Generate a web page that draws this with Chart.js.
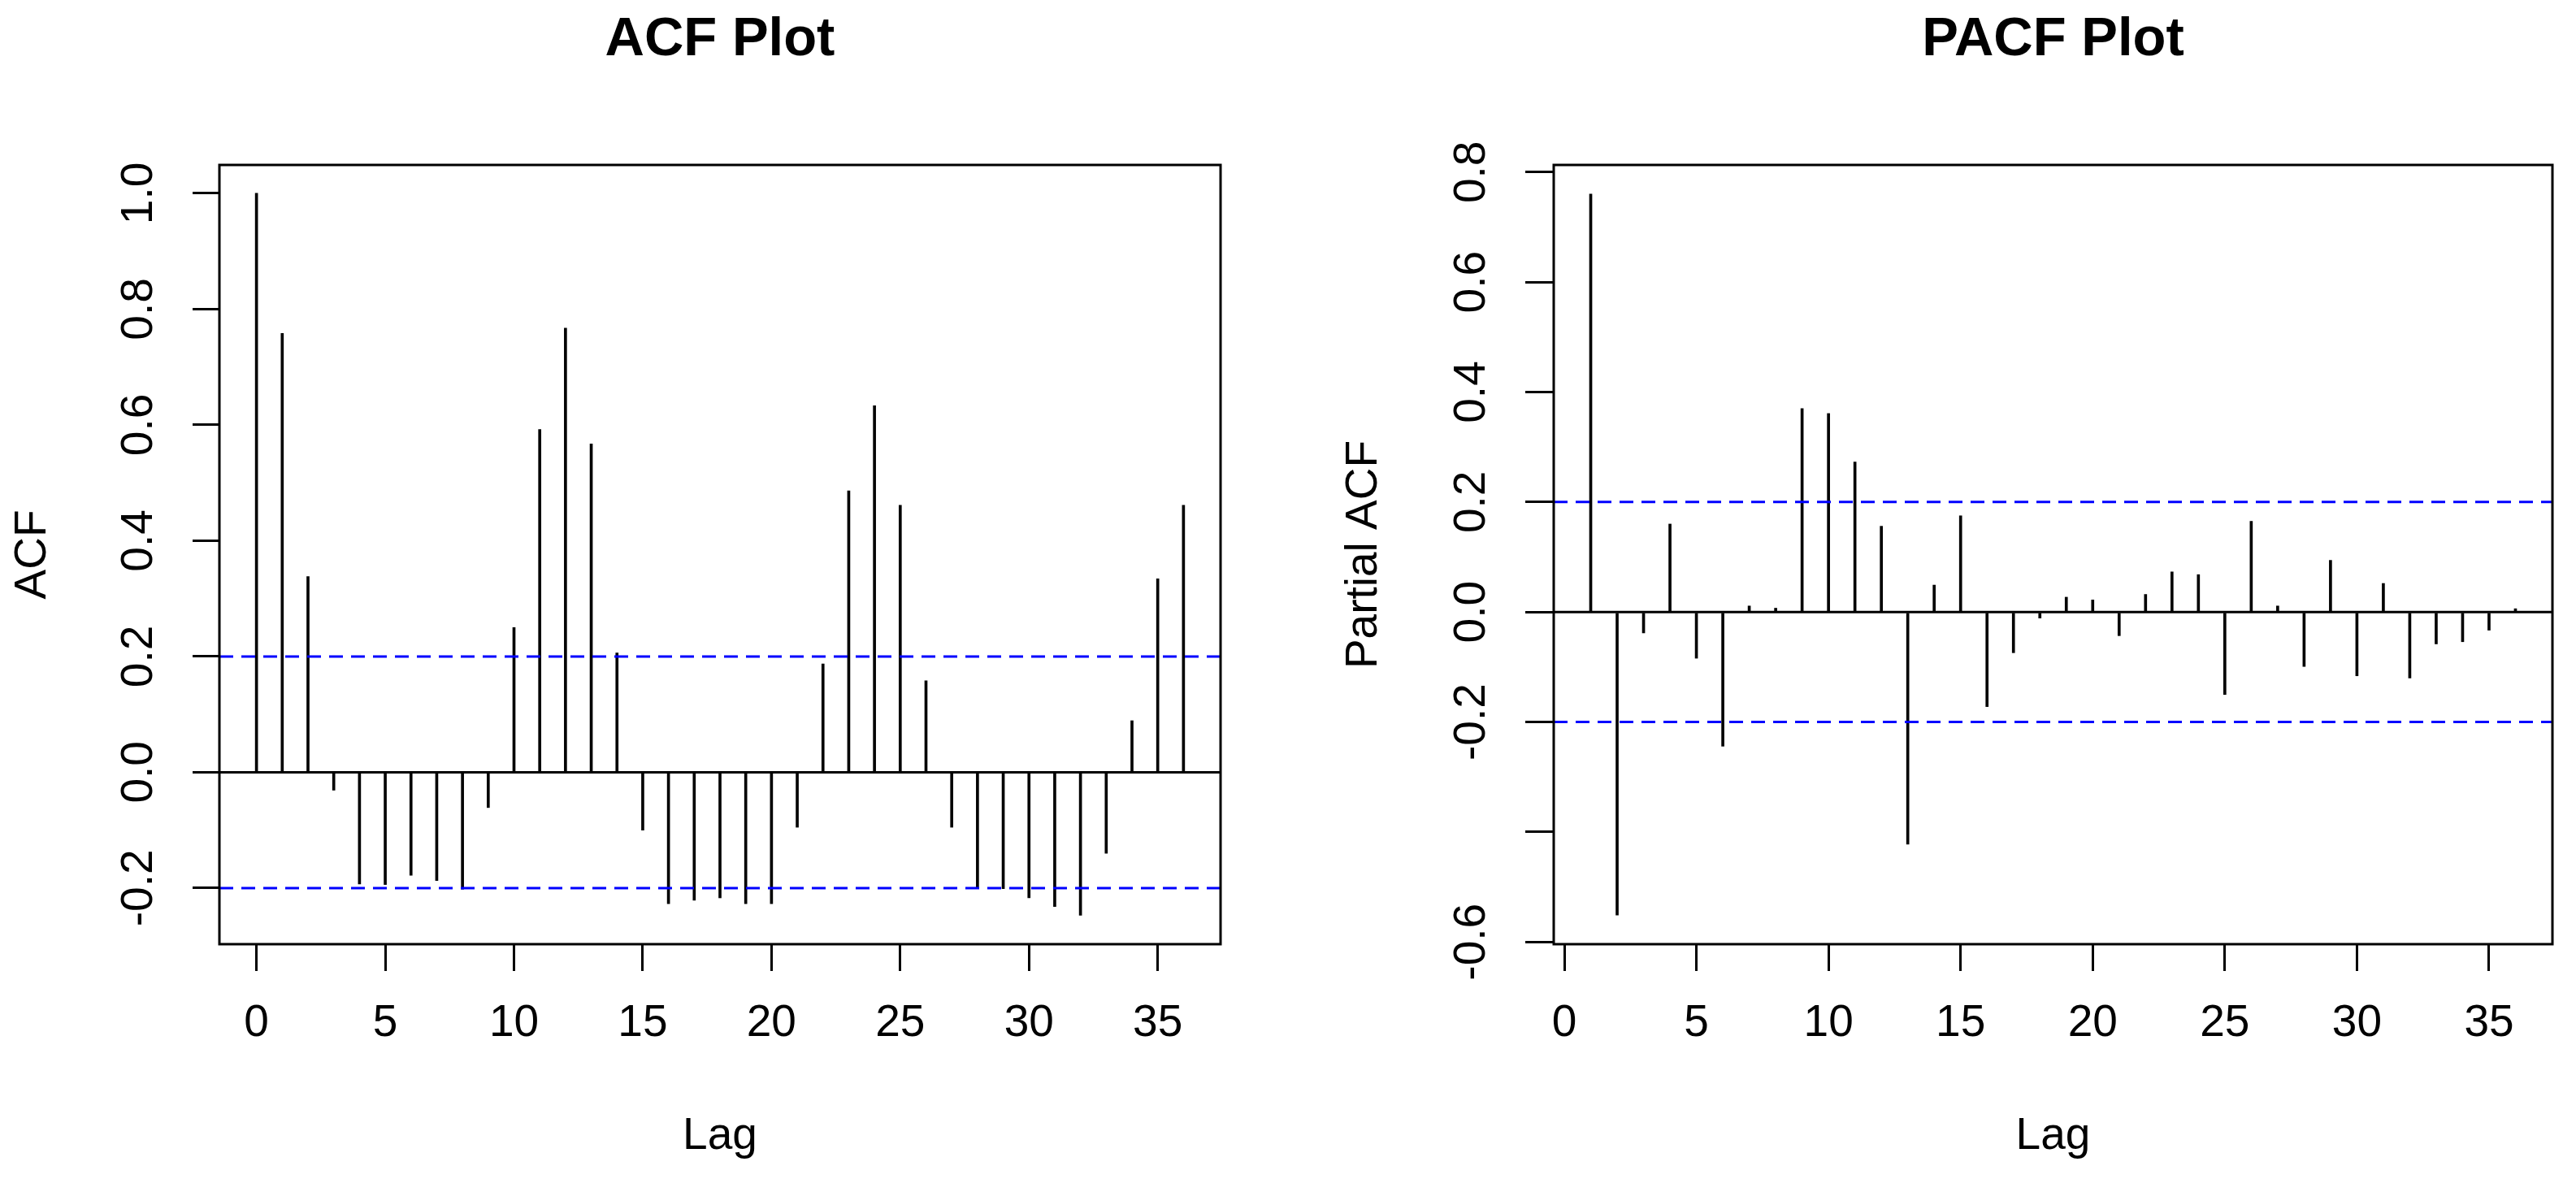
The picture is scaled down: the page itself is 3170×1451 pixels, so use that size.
<!DOCTYPE html>
<html>
<head>
<meta charset="utf-8">
<title>ACF / PACF</title>
<script src="https://cdn.jsdelivr.net/npm/chart.js@4.4.1/dist/chart.umd.min.js"></script>
<style>
  html, body { margin: 0; padding: 0; background: #fff; }
  #wrap { position: relative; width: 3170px; height: 1451px; }
  canvas { position: absolute; top: 0; }
</style>
</head>
<body>
<div id="wrap">
  <canvas id="acfChart" width="1585" height="1451" style="left:0px"></canvas>
  <canvas id="pacfChart" width="1585" height="1451" style="left:1585px"></canvas>
</div>
<script>
// valores
const acfLags = [0, 1, 2, 3, 4, 5, 6, 7, 8, 9, 10, 11, 12, 13, 14, 15, 16, 17, 18,
                 19, 20, 21, 22, 23, 24, 25, 26, 27, 28, 29, 30, 31, 32, 33, 34, 35, 36];
const acfValues = [1.000, 0.758, 0.338, -0.031, -0.193, -0.194, -0.178, -0.187, -0.202,
                   -0.061, 0.250, 0.592, 0.767, 0.567, 0.206, -0.100, -0.227, -0.221,
                   -0.217, -0.227, -0.227, -0.095, 0.187, 0.486, 0.633, 0.461, 0.158,
                   -0.095, -0.201, -0.201, -0.217, -0.232, -0.247, -0.140, 0.089, 0.334, 0.461];

const pacfLags = [1, 2, 3, 4, 5, 6, 7, 8, 9, 10, 11, 12, 13, 14, 15, 16, 17, 18,
                  19, 20, 21, 22, 23, 24, 25, 26, 27, 28, 29, 30, 31, 32, 33, 34, 35, 36];
const pacfValues = [0.760, -0.551, -0.038, 0.160, -0.084, -0.244, 0.011, 0.007, 0.370,
                    0.361, 0.273, 0.156, -0.422, 0.049, 0.175, -0.172, -0.074, -0.011,
                    0.027, 0.022, -0.043, 0.032, 0.073, 0.068, -0.150, 0.165, 0.011,
                    -0.099, 0.094, -0.116, 0.052, -0.120, -0.058, -0.054, -0.033, 0.006];

const ciLimit = 0.2; // limites de confiança (linhas azuis)

const xTicks = [0, 5, 10, 15, 20, 25, 30, 35];
const acfYTicks = [-0.2, 0, 0.2, 0.4, 0.6, 0.8, 1.0];
const acfYLabels = ['-0.2', '0.0', '0.2', '0.4', '0.6', '0.8', '1.0'];
const pacfYTicks = [-0.6, -0.4, -0.2, 0, 0.2, 0.4, 0.6, 0.8];
const pacfYLabels = ['-0.6', '', '-0.2', '0.0', '0.2', '0.4', '0.6', '0.8'];

Chart.defaults.font.family = "'Liberation Sans', Arial, sans-serif";
Chart.defaults.color = '#000';

// moldura em volta da área do gráfico
const plotBox = {
    id: 'plotBox',
    afterDraw(chart) {
        const { ctx, chartArea: a } = chart;
        ctx.save();
        ctx.strokeStyle = '#000';
        ctx.lineWidth = 3;
        ctx.strokeRect(a.left, a.top, a.right - a.left, a.bottom - a.top);
        ctx.restore();
    }
};

function stemChart(id, o) {
    const hline = (y, color, dash) => ({
        type: 'line',
        data: [{ x: o.xMin, y: y }, { x: o.xMax, y: y }],
        borderColor: color,
        borderWidth: 3,
        borderDash: dash,
        pointRadius: 0,
        fill: false,
        order: dash.length ? 1 : 2
    });

    return new Chart(document.getElementById(id), {
        type: 'bar',
        data: {
            datasets: [
                hline(ciLimit, '#0000FF', [17, 10]),
                hline(-ciLimit, '#0000FF', [17, 10]),
                hline(0, '#000', []),
                {
                    data: o.lags.map((l, i) => ({ x: l, y: o.values[i] })),
                    backgroundColor: '#000',
                    barThickness: 3,
                    order: 3
                }
            ]
        },
        plugins: [plotBox],
        options: {
            responsive: false,
            animation: false,
            devicePixelRatio: 1,
            layout: { padding: { left: 0, right: o.rightPad, top: 0, bottom: 0 } },
            plugins: {
                legend: { display: false },
                tooltip: { enabled: false },
                title: {
                    display: true,
                    text: o.title,
                    fullSize: false,
                    color: '#000',
                    font: { size: 67, weight: 'bold', lineHeight: 1 },
                    padding: { top: 16, bottom: 120 }
                }
            },
            scales: {
                x: {
                    type: 'linear',
                    bounds: 'data',
                    min: o.xMin,
                    max: o.xMax,
                    offset: false,
                    afterFit: s => { s.height = 289; },
                    afterBuildTicks: s => { s.ticks = xTicks.map(v => ({ value: v })); },
                    ticks: {
                        font: { size: 55 },
                        color: '#000',
                        padding: 32,
                        maxRotation: 0,
                        autoSkip: false,
                        callback: v => String(v)
                    },
                    grid: { offset: false, drawOnChartArea: false, tickLength: 33, color: '#000', lineWidth: 3 },
                    border: { display: false },
                    title: { display: true, text: 'Lag', color: '#000', font: { size: 55 }, padding: { top: 0, bottom: 19 } }
                },
                y: {
                    type: 'linear',
                    bounds: 'data',
                    min: o.yMin,
                    max: o.yMax,
                    afterFit: s => { s.width = o.yWidth; },
                    afterBuildTicks: s => { s.ticks = o.yTicks.map(v => ({ value: v })); },
                    ticks: {
                        font: { size: 55 },
                        color: '#000',
                        padding: 18,
                        minRotation: 90,
                        maxRotation: 90,
                        crossAlign: 'center',
                        autoSkip: false,
                        callback: (v, i) => o.yLabels[i]
                    },
                    grid: { drawOnChartArea: false, tickLength: o.yTickLen, color: '#000', lineWidth: 3 },
                    border: { display: false },
                    title: { display: true, text: o.yTitle, color: '#000', font: { size: 55 }, padding: { top: o.yTitlePad, bottom: 0 } }
                }
            }
        }
    });
}

// Gráfico ACF
stemChart('acfChart', {
    title: 'ACF Plot',
    yTitle: 'ACF',
    lags: acfLags,
    values: acfValues,
    xMin: -1.44, xMax: 37.44,
    yMin: -0.297, yMax: 1.049,
    yTicks: acfYTicks,
    yLabels: acfYLabels,
    yWidth: 270,
    yTickLen: 33,
    yTitlePad: 8,
    rightPad: 83
});

// Gráfico PACF
stemChart('pacfChart', {
    title: 'PACF Plot',
    yTitle: 'Partial ACF',
    lags: pacfLags,
    values: pacfValues,
    xMin: -0.4, xMax: 37.4,
    yMin: -0.604, yMax: 0.813,
    yTicks: pacfYTicks,
    yLabels: pacfYLabels,
    yWidth: 327,
    yTickLen: 35,
    yTitlePad: 61,
    rightPad: 29
});
</script>
</body>
</html>
